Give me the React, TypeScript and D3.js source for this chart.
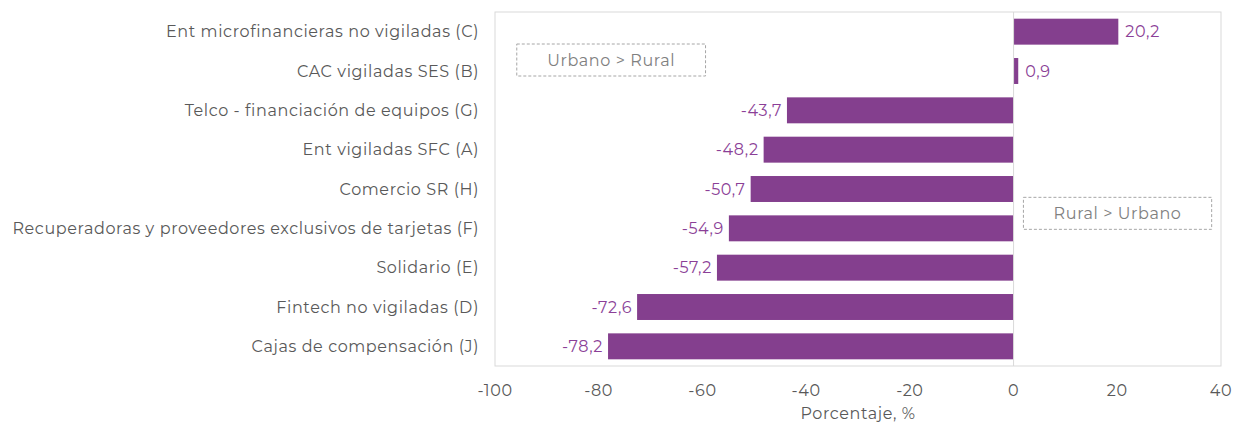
import React from "react";
import * as d3 from "d3";

const categories = [
  "Ent microfinancieras no vigiladas (C)",
  "CAC vigiladas SES (B)",
  "Telco - financiación de equipos (G)",
  "Ent vigiladas SFC (A)",
  "Comercio SR (H)",
  "Recuperadoras y proveedores exclusivos de tarjetas (F)",
  "Solidario (E)",
  "Fintech no vigiladas (D)",
  "Cajas de compensación (J)",
];
const values = [20.2, 0.9, -43.7, -48.2, -50.7, -54.9, -57.2, -72.6, -78.2];
const xTicks = [-100, -80, -60, -40, -20, 0, 20, 40];
const annotations = [
  { text: "Urbano > Rural", x0: -95.8, x1: -59.4, row: 1, dy: -11 },
  { text: "Rural > Urbano", x0: 1.9, x1: 38.2, row: 5, dy: -15 },
];

const W = 1233;
const H = 423;
const FONT = "Montserrat, 'Open Sans', sans-serif";
const LS = 0.6;

export default function App() {
  const left = 495, right = 1221, top = 12, bottom = 366;
  const x = d3.scaleLinear().domain([-100, 40]).range([left, right]);
  const y = d3.scaleBand<string>().domain(categories).range([top, bottom]).paddingInner(0.34).paddingOuter(0.17);
  const fmt = (v: number) => v.toFixed(1).replace(".", ",");
  const bw = y.bandwidth();
  return (
    <svg width={W} height={H} style={{ position: "absolute", left: 0, top: 0, background: "#fff" }} fontFamily={FONT} letterSpacing={LS}>
      <rect x={left} y={top} width={right - left} height={bottom - top} fill="none" stroke="#d9d9d9" strokeWidth={1} />
      {categories.map((c, i) => {
        const v = values[i];
        const yc = (y(c) as number) + bw / 2;
        const x0 = x(Math.min(0, v));
        const x1 = x(Math.max(0, v));
        return (
          <g key={c}>
            <rect x={x0} y={y(c)} width={Math.max(x1 - x0, 0)} height={bw} fill="#843f8e" />
            <text
              x={v < 0 ? x0 - 5 : x1 + 7}
              y={yc}
              dy="0.35em"
              textAnchor={v < 0 ? "end" : "start"}
              fontSize={16}
              fill="#8b3f97"
            >
              {fmt(v)}
            </text>
            <text x={479} y={yc} dy="0.35em" textAnchor="end" fontSize={16} fill="#595959">
              {c}
            </text>
          </g>
        );
      })}
      <line x1={x(0)} x2={x(0)} y1={top} y2={bottom} stroke="#d9d9d9" strokeWidth={1} />
      {xTicks.map((t) => (
        <text key={t} x={x(t)} y={390} dy="0.35em" textAnchor="middle" fontSize={16} fill="#595959">
          {t}
        </text>
      ))}
      <text x={(left + right) / 2} y={413} dy="0.35em" textAnchor="middle" fontSize={16} fill="#595959">
        Porcentaje, %
      </text>
      {annotations.map((a) => {
        const c = categories[a.row];
        const yc = (y(c) as number) + bw / 2 + a.dy;
        const bx0 = x(a.x0), bx1 = x(a.x1);
        return (
          <g key={a.text}>
            <rect x={bx0} y={yc - 16} width={bx1 - bx0} height={32} fill="#fff" stroke="#a6a6a6" strokeDasharray="3,2" strokeWidth={1} />
            <text x={(bx0 + bx1) / 2} y={yc} dy="0.35em" textAnchor="middle" fontSize={16} fill="#808080">
              {a.text}
            </text>
          </g>
        );
      })}
    </svg>
  );
}
